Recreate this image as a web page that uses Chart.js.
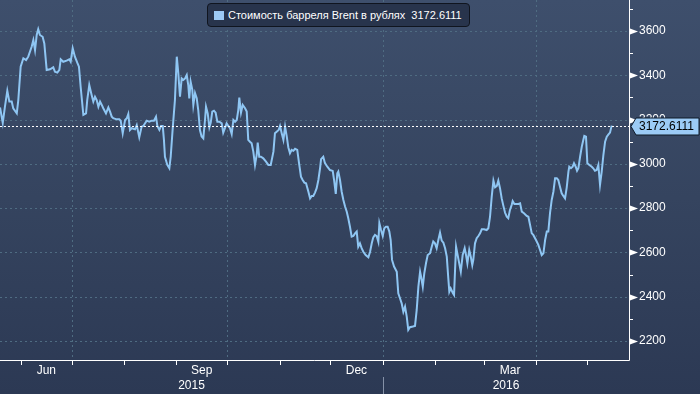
<!DOCTYPE html>
<html>
<head>
<meta charset="utf-8">
<script src="https://cdn.jsdelivr.net/npm/chart.js@4.4.1/dist/chart.umd.min.js"></script>
<style>
html, body { margin: 0; padding: 0; }
body {
    width: 700px; height: 394px; overflow: hidden; position: relative;
    background: linear-gradient(to bottom, #3e4f6c 0%, #35445f 50%, #2c3954 100%);
    font-family: "Liberation Sans", Arial, sans-serif;
}
#graficaBrent { position: absolute; left: 0; top: 0; }
#leyenda {
    position: absolute; left: 207px; top: 3px; width: 263px; height: 24px;
    box-sizing: border-box; border: 1px solid #10151f; border-radius: 4px;
    background: #28344c; color: #fff; font-size: 11px; line-height: 22px;
    padding-left: 6px; white-space: pre;
}
#leyenda .cuadro {
    display: inline-block; width: 10px; height: 9px; background: #9dcaf5;
    vertical-align: -1px; margin-right: 4px;
}
</style>
</head>
<body>
<canvas id="graficaBrent" width="700" height="394"></canvas>
<div id="leyenda"><span class="cuadro"></span>Стоимость барреля Brent в рублях  3172.6111</div>
<script>
// dias desde 2015-06-01
const dias = [
    -12.4,-10.8,-9.5,-8.1,-6.9,-5.5,-4.6,-2.5,-1.6,-0.2,
    1.4,3.0,4.3,6.3,7.3,8.3,9.3,10.2,11.2,12.8,
    13.8,15.2,17.2,19.1,20.1,21.5,22.7,23.5,25.0,27.0,
    28.6,29.4,30.6,31.9,33.3,34.3,35.3,36.9,38.5,39.2,
    40.4,41.8,42.8,43.8,44.8,45.8,46.8,47.8,48.7,50.3,
    51.7,52.7,53.7,54.6,56.6,58.2,59.0,60.2,61.6,62.6,
    63.5,64.5,65.5,67.5,68.5,70.0,71.4,72.4,74.4,75.9,
    77.4,78.7,79.9,80.7,81.9,
    82.9,83.9,84.6,85.2,86.6,87.8,88.6,89.8,91.1,92.2,
    93.1,94.1,95.1,96.1,97.1,98.1,99.0,99.6,100.4,101.4,
    102.0,103.0,104.0,104.9,105.9,106.9,107.9,108.9,109.5,110.5,
    111.5,112.3,113.2,114.2,115.2,116.2,117.4,118.8,119.7,120.7,
    121.7,122.7,123.7,124.7,125.7,126.7,127.7,128.6,129.2,130.2,
    131.2,132.6,133.6,134.5,135.5,136.5,137.5,138.5,139.5,140.1,
    141.0,142.0,143.4,145.0,146.4,147.8,149.4,150.3,151.3,152.5,
    153.3,154.3,155.3,156.3,157.3,158.2,159.2,160.2,161.2,162.2,
    163.5,164.7,
    165.7,166.7,167.7,168.7,170.1,171.1,172.1,173.0,174.0,175.0,
    176.0,177.0,177.6,178.9,179.9,181.3,182.9,184.5,185.3,186.3,
    187.2,187.8,188.8,189.8,190.8,191.8,192.8,193.7,194.7,195.7,
    196.7,197.7,198.7,199.6,200.6,201.6,202.6,204.0,205.6,206.6,
    207.6,208.5,209.5,210.5,211.5,212.1,213.1,214.1,215.0,216.0,
    217.0,218.0,218.8,219.6,220.8,222.4,223.3,224.3,225.3,226.3,
    227.3,228.3,229.2,230.2,231.9,233.2,234.2,235.2,236.2,236.8,
    237.8,238.7,239.7,240.7,242.1,
    243.1,244.0,245.0,246.0,247.0,248.0,249.0,250.0,251.0,252.0,
    252.9,253.5,254.3,255.5,256.3,256.9,257.5,258.8,260.3,261.4,
    262.6,263.4,264.2,265.3,266.2,267.1,267.7,268.7,269.7,270.7,
    271.7,272.7,274.0,275.6,276.6,277.6,278.6,279.6,280.6,281.6,
    282.5,283.5,284.5,285.5,286.5,287.5,288.4,289.4,290.4,291.0,
    292.0,293.0,294.4,295.4,296.4,297.7,299.3,300.3,301.3,302.3,
    303.2,304.8,306.2,307.2,308.2,309.2,310.2,311.2,312.1,313.1,
    314.1,315.1,316.1,317.1,318.0,319.0,320.0,321.0,322.0,323.0,
    324.0,324.5,325.5,326.5,327.3,328.3,329.1,329.9,330.9,331.9,
    332.8,333.4,334.4,335.2,336.4,337.8,338.7,339.7,340.7,341.7,
    342.7,343.7,344.7,345.7,346.7,347.6,348.6,349.6
];

const rublos = [
    3255,3185,3258,3330,3281,3281,3251,3228,3288,3439,
    3477,3469,3484,3529,3559,3514,3582,3608,3582,3574,
    3544,3424,3427,3436,3416,3412,3424,3472,3461,3466,
    3472,3461,3522,3484,3457,3439,3348,3221,3228,3288,
    3356,3311,3281,3303,3288,3258,3281,3266,3251,3228,
    3255,3236,3213,3206,3201,3201,3195,3138,3198,3206,
    3225,3153,3161,3156,3175,3120,3168,3171,3195,3190,
    3195,3195,3213,3171,3153,
    3171,3171,3108,3032,2995,2980,3032,3161,3288,3484,
    3409,3303,3386,3379,3386,3401,3356,3296,3371,3334,
    3266,3319,3296,3243,3153,3123,3115,3198,3258,3228,
    3165,3186,3236,3240,3231,3190,3190,3183,3141,3161,
    3183,3171,3161,3135,3198,3190,3198,3243,3299,3231,
    3266,3251,3236,3108,3100,3093,3055,2995,3040,3096,
    3032,3032,3025,3010,2995,2995,3055,3138,3145,3153,
    3171,3138,3108,3168,3123,3075,3048,3063,3059,3068,
    3063,2995,
    2942,2927,2915,2912,2874,2844,2855,2855,2870,2890,
    2927,2980,3021,3032,3003,2987,2972,2968,2927,2864,
    2957,2965,2927,2874,2837,2807,2784,2754,2716,2671,
    2674,2686,2694,2626,2641,2619,2603,2588,2578,2603,
    2641,2668,2679,2674,2648,2732,2701,2674,2709,2716,
    2716,2694,2656,2566,2536,2513,2415,2393,2370,2332,
    2355,2310,2250,2262,2265,2268,2340,2445,2513,2490,
    2445,2506,2551,2588,2596,
    2626,2649,2641,2619,2656,2689,2653,2644,2619,2581,
    2483,2423,2438,2418,2408,2521,2626,2573,2513,2588,
    2619,2588,2551,2611,2581,2543,2566,2641,2664,2674,
    2686,2704,2704,2701,2709,2761,2852,2924,2894,2900,
    2924,2890,2844,2810,2779,2761,2754,2792,2814,2832,
    2819,2819,2819,2822,2784,2777,2765,2761,2724,2686,
    2679,2656,2634,2611,2588,2596,2656,2694,2694,2777,
    2837,2874,2935,2935,2927,2897,2867,2855,2844,2894,
    2965,2987,2980,2987,3003,2987,2969,2980,3032,3077,
    3108,3126,3123,3003,2995,2987,2980,2969,2972,2995,
    2905,2965,3040,3100,3123,3132,3141,3172.6111
];

// inicio de cada mes (dias desde 2015-06-01), Jun 2015 .. May 2016
const iniciosMes = [0, 30, 61, 92, 122, 153, 183, 214, 245, 274, 305, 335];
const iniciosTrimestre = [30, 122, 214, 305];
const etiquetasMes = ['Jun', 'Sep', 'Dec', 'Mar'];
const diasEtiquetaMes = [15, 107, 198.5, 289.5];
const etiquetasAnio = ['2015', '2016'];
const inicioAnio2016 = 214;
const marcasY = [2200, 2400, 2600, 2800, 3000, 3200, 3400, 3600];
const marcasMenoresY = [2300, 2500, 2700, 2900, 3100, 3300, 3500, 3700];

const colorLinea = '#8fc6f3';
const colorRejilla = '#4f6c82';
const fuente = '"Liberation Sans", Arial, sans-serif';

const dibujoEjes = {
    id: 'dibujoEjes',
    beforeDatasetsDraw(chart) {
        const { ctx, chartArea: a, scales: { x, y } } = chart;
        ctx.save();
        ctx.strokeStyle = colorRejilla;
        ctx.lineWidth = 1;
        ctx.setLineDash([2, 3]);
        marcasY.forEach(v => {
            const py = Math.round(y.getPixelForValue(v)) + 0.5;
            ctx.beginPath(); ctx.moveTo(a.left, py); ctx.lineTo(a.right, py); ctx.stroke();
        });
        iniciosTrimestre.forEach(d => {
            const px = Math.round(x.getPixelForValue(d)) + 0.5;
            ctx.beginPath(); ctx.moveTo(px, a.top); ctx.lineTo(px, a.bottom); ctx.stroke();
        });
        ctx.restore();
    },
    afterDraw(chart) {
        const { ctx, chartArea: a, scales: { x, y } } = chart;
        ctx.save();
        ctx.strokeStyle = '#ffffff';
        ctx.fillStyle = '#ffffff';
        ctx.lineWidth = 1;

        // ejes
        ctx.beginPath();
        ctx.moveTo(a.left, a.bottom + 0.5); ctx.lineTo(a.right + 0.5, a.bottom + 0.5);
        ctx.moveTo(a.right + 0.5, a.top); ctx.lineTo(a.right + 0.5, a.bottom + 0.5);
        ctx.stroke();

        // marcas eje x
        iniciosMes.forEach(d => {
            const px = Math.round(x.getPixelForValue(d)) + 0.5;
            ctx.beginPath(); ctx.moveTo(px, a.bottom); ctx.lineTo(px, a.bottom + 5); ctx.stroke();
        });

        // marcas eje y
        marcasMenoresY.forEach(v => {
            const py = Math.round(y.getPixelForValue(v)) + 0.5;
            ctx.beginPath(); ctx.moveTo(a.right, py); ctx.lineTo(a.right + 4, py); ctx.stroke();
        });
        marcasY.forEach(v => {
            const py = Math.round(y.getPixelForValue(v));
            ctx.beginPath();
            ctx.moveTo(a.right + 1, py - 2.5);
            ctx.lineTo(a.right + 9, py + 0.5);
            ctx.lineTo(a.right + 1, py + 3.5);
            ctx.closePath();
            ctx.fill();
        });

        // etiquetas de meses y anios
        ctx.font = '12px ' + fuente;
        ctx.textAlign = 'center';
        ctx.textBaseline = 'middle';
        etiquetasMes.forEach((t, i) => {
            ctx.fillText(t, x.getPixelForValue(diasEtiquetaMes[i]), a.bottom + 11);
        });
        const sep = Math.round(x.getPixelForValue(inicioAnio2016));
        ctx.fillText(etiquetasAnio[0], (a.left + sep) / 2, a.bottom + 26);
        ctx.fillText(etiquetasAnio[1], (sep + a.right) / 2, a.bottom + 26);
        ctx.strokeStyle = '#8591a7';
        ctx.beginPath(); ctx.moveTo(sep + 0.5, a.bottom + 17); ctx.lineTo(sep + 0.5, chart.height); ctx.stroke();

        // ultimo valor
        const ultimo = rublos[rublos.length - 1];
        const ly = Math.round(y.getPixelForValue(ultimo)) + 0.5;
        ctx.strokeStyle = '#ffffff';
        ctx.setLineDash([2, 2]);
        ctx.beginPath(); ctx.moveTo(a.left, ly); ctx.lineTo(a.right + 3, ly); ctx.stroke();
        ctx.setLineDash([]);

        ctx.beginPath();
        ctx.moveTo(a.right + 2, ly);
        ctx.lineTo(a.right + 7, ly - 8.5);
        ctx.lineTo(chart.width - 1, ly - 8.5);
        ctx.lineTo(chart.width - 1, ly + 8.5);
        ctx.lineTo(a.right + 7, ly + 8.5);
        ctx.closePath();
        ctx.fillStyle = '#9ccbf6';
        ctx.fill();
        ctx.strokeStyle = '#0e1a29';
        ctx.stroke();
        ctx.fillStyle = '#000000';
        ctx.textAlign = 'left';
        ctx.fillText(ultimo.toFixed(4), a.right + 10, ly + 0.5);
        ctx.restore();
    }
};

const ctx = document.getElementById('graficaBrent').getContext('2d');

const grafica = new Chart(ctx, {
    type: 'line',
    data: {
        datasets: [{
            label: 'Стоимость барреля Brent в рублях',
            data: dias.map((d, i) => ({ x: d, y: rublos[i] })),
            borderColor: colorLinea,
            borderWidth: 2,
            pointRadius: 0,
            tension: 0,
            fill: false
        }]
    },
    options: {
        responsive: false,
        devicePixelRatio: 1,
        animation: false,
        layout: { padding: { left: 0, top: 0, right: 0, bottom: 34 } },
        plugins: {
            legend: { display: false },
            tooltip: { enabled: false }
        },
        scales: {
            x: {
                type: 'linear',
                display: false,
                min: -12.43,
                max: 359.85
            },
            y: {
                type: 'linear',
                position: 'right',
                min: 2114,
                max: 3740,
                afterBuildTicks: s => { s.ticks = marcasY.map(v => ({ value: v })); },
                afterFit: s => {
                    s.width = 71;
                    s.paddingTop = 0;
                    s.paddingBottom = 0;
                },
                grid: { display: false, drawTicks: false, tickLength: 0 },
                border: { display: false },
                ticks: {
                    color: '#ffffff',
                    padding: 10,
                    font: { family: fuente, size: 12 },
                    callback: v => String(v)
                }
            }
        }
    },
    plugins: [dibujoEjes]
});
</script>
</body>
</html>
